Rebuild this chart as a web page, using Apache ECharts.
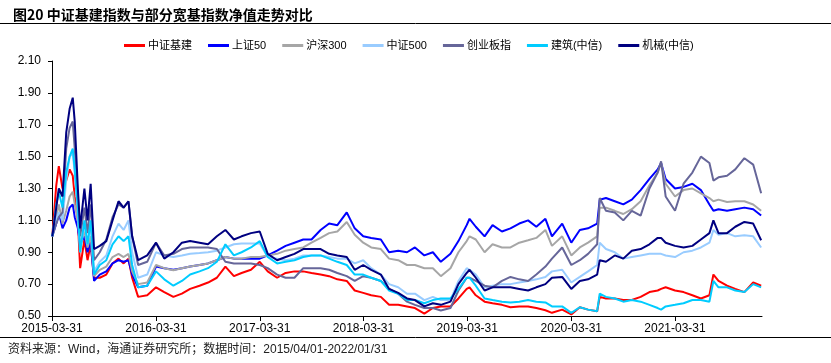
<!DOCTYPE html>
<html><head><meta charset="utf-8">
<script src="https://cdn.jsdelivr.net/npm/echarts@6/dist/echarts.min.js"></script>
<style>html,body{margin:0;padding:0;background:#fff}#c{width:831px;height:363px}</style>
</head><body><div id="c"></div>
<script>
const seriesNames = ['中证基建','上证50','沪深300','中证500','创业板指','建筑(中信)','机械(中信)'];
const tickLabels = ['2015-03-31','2016-03-31','2017-03-31','2018-03-31','2019-03-31','2020-03-31','2021-03-31'];
const dates = [
'2015-04-01','2015-04-15','2015-04-24','2015-05-07','2015-05-20','2015-06-01','2015-06-12','2015-06-19','2015-06-30','2015-07-08',
'2015-07-23','2015-08-03','2015-08-14','2015-08-26','2015-09-15','2015-10-08','2015-10-30','2015-11-20','2015-12-08','2015-12-25','2016-01-07',
'2016-01-28','2016-02-29','2016-03-31','2016-04-29','2016-05-31','2016-06-30','2016-07-29','2016-08-31','2016-09-30','2016-10-31',
'2016-11-30','2016-12-30','2017-01-26','2017-02-28','2017-03-31','2017-04-28','2017-05-31','2017-06-30','2017-07-31','2017-08-31',
'2017-09-29','2017-10-31','2017-11-30','2017-12-29','2018-01-31','2018-02-28','2018-03-30','2018-04-27','2018-05-31','2018-06-29',
'2018-07-31','2018-08-31','2018-09-28','2018-10-31','2018-11-30','2018-12-28','2019-01-31','2019-02-28','2019-03-29','2019-04-08',
'2019-04-30','2019-05-31','2019-06-28','2019-07-31','2019-08-30','2019-09-30','2019-10-31','2019-11-29','2019-12-31','2020-01-23',
'2020-02-28','2020-03-31','2020-04-30','2020-05-29','2020-06-30','2020-07-09','2020-07-31','2020-08-31','2020-09-30','2020-10-30',
'2020-11-30','2020-12-31','2021-01-29','2021-02-10','2021-02-26','2021-03-31','2021-04-30','2021-05-31','2021-06-30','2021-07-30',
'2021-08-13','2021-08-31','2021-09-30','2021-10-29','2021-11-30','2021-12-31','2022-01-28'];
const jijian = [
1.00,1.32,1.44,1.30,1.35,1.42,1.38,1.25,1.10,0.80,
0.98,0.85,0.95,0.74,0.74,0.76,0.83,0.86,0.83,0.86,0.74,
0.62,0.63,0.68,0.65,0.62,0.64,0.67,0.69,0.71,0.74,
0.81,0.75,0.77,0.79,0.84,0.78,0.74,0.77,0.78,0.78,
0.77,0.76,0.75,0.73,0.72,0.66,0.645,0.63,0.62,0.57,
0.57,0.56,0.55,0.515,0.55,0.56,0.56,0.61,0.67,0.68,
0.63,0.59,0.58,0.57,0.555,0.56,0.56,0.55,0.536,0.52,
0.54,0.51,0.555,0.54,0.53,0.62,0.61,0.61,0.60,0.60,
0.62,0.65,0.66,0.67,0.68,0.66,0.65,0.63,0.61,0.63,
0.76,0.72,0.69,0.67,0.65,0.71,0.69];
const sz50 = [
1.00,1.08,1.15,1.05,1.10,1.18,1.20,1.12,1.05,0.95,
1.00,0.90,0.97,0.72,0.76,0.78,0.83,0.85,0.84,0.85,0.76,
0.68,0.69,0.81,0.80,0.79,0.80,0.81,0.82,0.83,0.85,
0.87,0.86,0.86,0.86,0.86,0.88,0.91,0.94,0.96,0.98,
0.98,1.04,1.08,1.07,1.15,1.05,1.00,0.99,0.98,0.90,
0.91,0.90,0.93,0.88,0.90,0.84,0.89,0.97,1.07,1.11,
1.06,1.00,1.07,1.03,1.05,1.08,1.10,1.06,1.11,1.00,
1.08,0.96,1.04,1.05,1.08,1.23,1.24,1.22,1.20,1.23,
1.29,1.36,1.42,1.46,1.36,1.30,1.31,1.33,1.29,1.20,
1.16,1.17,1.16,1.17,1.18,1.17,1.13];
const hs300 = [
1.00,1.12,1.20,1.08,1.16,1.25,1.28,1.20,1.10,0.95,
1.03,0.93,1.00,0.75,0.79,0.81,0.87,0.89,0.87,0.89,0.78,
0.70,0.71,0.82,0.80,0.787,0.80,0.81,0.82,0.83,0.85,
0.87,0.86,0.86,0.87,0.87,0.88,0.89,0.91,0.92,0.93,
0.96,0.99,1.02,1.03,1.09,1.01,0.96,0.93,0.92,0.86,
0.85,0.82,0.82,0.80,0.80,0.75,0.80,0.90,0.97,1.00,
0.98,0.90,0.95,0.93,0.93,0.96,0.975,0.99,1.04,0.94,
1.00,0.88,0.93,0.96,1.00,1.18,1.18,1.16,1.14,1.17,
1.22,1.32,1.40,1.46,1.33,1.25,1.29,1.30,1.27,1.24,
1.22,1.23,1.215,1.22,1.22,1.20,1.16];
const zz500 = [
1.00,1.10,1.15,1.10,1.35,1.50,1.52,1.40,1.15,0.90,
1.08,0.95,1.08,0.78,0.84,0.88,1.00,1.08,1.04,1.10,0.90,
0.74,0.76,0.90,0.88,0.87,0.88,0.89,0.895,0.90,0.91,
0.93,0.95,0.955,0.955,0.955,0.87,0.86,0.85,0.86,0.88,
0.88,0.88,0.87,0.86,0.86,0.83,0.85,0.80,0.76,0.70,
0.68,0.64,0.64,0.60,0.62,0.60,0.60,0.72,0.80,0.79,
0.76,0.68,0.69,0.70,0.70,0.71,0.72,0.73,0.745,0.78,
0.79,0.71,0.745,0.78,0.82,0.96,0.92,0.90,0.86,0.87,
0.88,0.89,0.89,0.89,0.88,0.87,0.90,0.91,0.93,0.96,
1.04,1.01,1.02,1.00,1.006,1.00,0.93];
const cyb = [
1.00,1.08,1.12,1.15,1.55,1.68,1.72,1.55,1.25,1.00,
1.18,1.02,1.20,0.85,0.90,0.98,1.12,1.20,1.18,1.22,1.00,
0.82,0.84,0.96,0.88,0.89,0.92,0.93,0.93,0.93,0.92,
0.84,0.83,0.83,0.83,0.82,0.80,0.76,0.74,0.74,0.80,
0.80,0.80,0.79,0.77,0.75,0.72,0.75,0.74,0.72,0.67,
0.64,0.59,0.57,0.55,0.55,0.535,0.55,0.66,0.74,0.74,
0.72,0.69,0.68,0.72,0.745,0.73,0.72,0.76,0.81,0.86,
0.93,0.82,0.85,0.89,0.95,1.24,1.16,1.15,1.10,1.16,
1.13,1.30,1.40,1.47,1.25,1.16,1.33,1.40,1.50,1.46,
1.35,1.37,1.38,1.42,1.49,1.45,1.27];
const jianzhu = [
1.00,1.20,1.28,1.18,1.40,1.50,1.55,1.42,1.18,0.90,
1.10,0.95,1.10,0.76,0.82,0.85,0.95,1.00,0.97,1.00,0.82,
0.68,0.69,0.78,0.73,0.69,0.72,0.76,0.78,0.80,0.84,
0.95,0.88,0.90,0.93,0.97,0.87,0.83,0.84,0.85,0.87,
0.88,0.88,0.86,0.84,0.82,0.76,0.76,0.74,0.72,0.66,
0.64,0.60,0.60,0.58,0.60,0.61,0.61,0.67,0.74,0.74,
0.69,0.61,0.60,0.59,0.585,0.59,0.60,0.59,0.585,0.56,
0.56,0.52,0.555,0.54,0.53,0.64,0.62,0.61,0.59,0.60,
0.59,0.57,0.55,0.54,0.56,0.57,0.58,0.60,0.60,0.59,
0.72,0.68,0.68,0.66,0.65,0.70,0.68];
const jixie = [
1.00,1.18,1.30,1.25,1.65,1.80,1.87,1.72,1.30,1.05,
1.30,1.10,1.33,0.92,0.94,0.97,1.10,1.22,1.18,1.22,1.00,
0.85,0.88,0.96,0.86,0.90,0.96,0.97,0.96,0.95,1.00,
1.04,0.98,1.00,1.02,1.03,0.89,0.85,0.87,0.89,0.92,
0.92,0.92,0.89,0.88,0.87,0.79,0.82,0.79,0.76,0.67,
0.645,0.61,0.60,0.56,0.58,0.57,0.59,0.70,0.77,0.79,
0.74,0.66,0.68,0.68,0.68,0.67,0.66,0.68,0.70,0.74,
0.745,0.67,0.72,0.73,0.76,0.85,0.84,0.88,0.86,0.91,
0.92,0.95,0.99,0.99,0.96,0.94,0.93,0.94,0.98,1.02,
1.10,1.02,1.02,1.06,1.09,1.08,0.975];
const colors = ['#FF0000','#0000FF','#A6A6A6','#99CCFF','#666699','#00CCFF','#000080'];
const values = [jijian, sz50, hs300, zz500, cyb, jianzhu, jixie];

const toT = s => echarts.time.parse(s).getTime();
const tickTimes = tickLabels.map(toT);
const font = '"Liberation Sans", Arial, sans-serif';
const mixFont = '"Liberation Sans", "Noto Sans CJK SC", sans-serif';
const chart = echarts.init(document.getElementById('c'));
chart.setOption({
  animation: false,
  color: colors,
  title: {
    text: '图20 中证基建指数与部分宽基指数净值走势对比',
    left: 8, top: 3,
    textStyle: {fontSize: 14, fontWeight: 'bold', color: '#000', fontFamily: '"Noto Sans CJK SC", sans-serif'}
  },
  legend: {
    top: 35, left: 119,
    itemWidth: 21, itemHeight: 3, itemGap: 16,
    icon: 'rect',
    textStyle: {fontSize: 11, color: '#000', fontFamily: mixFont, padding: [0, 0, 0, -2]},
    data: seriesNames
  },
  grid: {left: 52, right: 69, top: 61, bottom: 47, containLabel: false},
  xAxis: {
    type: 'value',
    min: toT('2015-03-31'),
    max: toT('2022-01-31'),
    axisLine: {lineStyle: {color: '#000', width: 1}},
    axisTick: {show: true, customValues: tickTimes, length: 5, lineStyle: {color: '#000'}},
    axisLabel: {customValues: tickTimes, color: '#000', fontSize: 12, fontFamily: font, margin: 7,
      formatter: v => echarts.time.format(v, '{yyyy}-{MM}-{dd}', false)},
    splitLine: {show: false}
  },
  yAxis: {
    type: 'value', min: 0.5, max: 2.1, interval: 0.2,
    axisLine: {show: true, lineStyle: {color: '#000', width: 1}},
    axisTick: {show: true, length: 4, lineStyle: {color: '#000'}},
    axisLabel: {color: '#000', fontSize: 12, fontFamily: font, margin: 11, formatter: v => v.toFixed(2)},
    splitLine: {show: false}
  },
  graphic: [
    {type: 'line', shape: {x1: 0, y1: 23.5, x2: 831, y2: 23.5}, style: {stroke: '#000', lineWidth: 1}},
    {type: 'line', shape: {x1: 0, y1: 337.5, x2: 831, y2: 337.5}, style: {stroke: '#000', lineWidth: 1}},
    {type: 'text', left: 8, top: 344, style: {text: '资料来源：Wind，海通证券研究所；数据时间：2015/04/01-2022/01/31', fontSize: 12, fill: '#222', fontFamily: mixFont}}
  ],
  series: seriesNames.map((n, i) => ({
    name: n, type: 'line', showSymbol: false, symbol: 'none',
    lineStyle: {width: 2, color: colors[i]},
    data: dates.map((d, j) => [toT(d), values[i][j]])
  }))
});
</script></body></html>
